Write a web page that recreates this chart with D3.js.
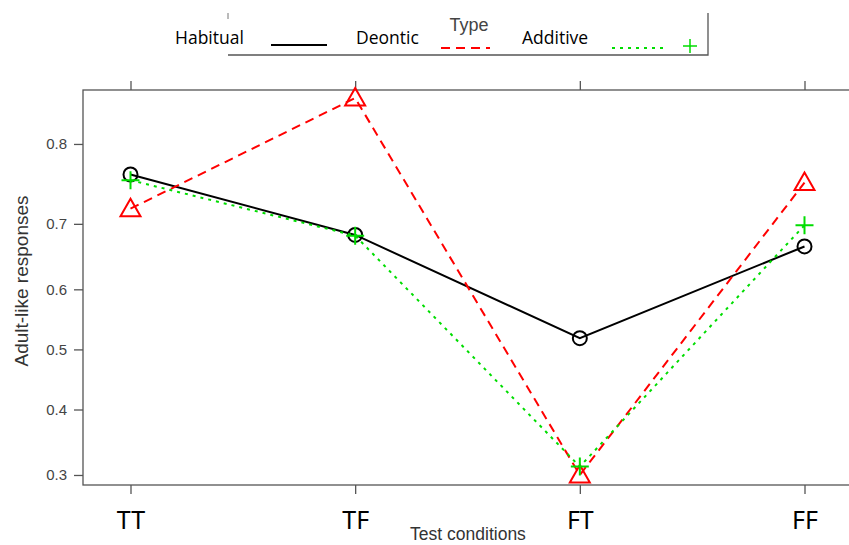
<!DOCTYPE html>
<html>
<head>
<meta charset="utf-8">
<script src="https://cdn.jsdelivr.net/npm/d3@7"></script>
<style>
  body { margin: 0; background: #fff; }
  svg { display: block; }
</style>
</head>
<body>
<div id="chart-area"></div>
<script>
// data (y axis is on a logit scale)
var conditions = ["TT", "TF", "FT", "FF"];
var habitual = [0.765, 0.684, 0.519, 0.667];
var deontic  = [0.721, 0.845, 0.300, 0.755];
var additive = [0.758, 0.683, 0.312, 0.698];
var yTicks = [0.3, 0.4, 0.5, 0.6, 0.7, 0.8];
var seriesNames = ["Habitual", "Deontic", "Additive"];

var logit = function(p){ return Math.log(p / (1 - p)); };
var invlogit = function(v){ return 1 / (1 + Math.exp(-v)); };

var svg = d3.select("#chart-area").append("svg")
    .attr("width", 849)
    .attr("height", 545);

var box = { left: 83, top: 90, right: 860, bottom: 485 };

var x = d3.scalePoint()
    .domain(conditions)
    .range([130.5, 804.5]);

var yL = d3.scaleLinear()
    .domain([logit(0.286), logit(0.852)])
    .range([box.bottom, box.top]);
var y = function(p){ return yL(logit(p)); };

// panel frame
svg.append("rect")
    .attr("x", box.left)
    .attr("y", box.top)
    .attr("width", box.right - box.left)
    .attr("height", box.bottom - box.top)
    .attr("fill", "none")
    .attr("stroke", "#555")
    .attr("stroke-width", 1.3);

// left axis
var yAxis = d3.axisLeft(yL)
    .tickValues(yTicks.map(logit))
    .tickFormat(function(d){ return d3.format(".1f")(invlogit(d)); })
    .tickSize(9)
    .tickPadding(7);
var gy = svg.append("g")
    .attr("transform", "translate(" + box.left + ",0)")
    .call(yAxis);
gy.select(".domain").remove();
gy.selectAll("line").attr("stroke", "#555").attr("stroke-width", 1.3);
gy.selectAll("text")
    .attr("fill", "#444")
    .style("font-family", "Liberation Sans, Arial, sans-serif")
    .style("font-size", "15px");

// bottom axis
var xAxis = d3.axisBottom(x).tickSize(9).tickPadding(17);
var gx = svg.append("g")
    .attr("transform", "translate(0," + box.bottom + ")")
    .call(xAxis);
gx.select(".domain").remove();
gx.selectAll("line").attr("stroke", "#555").attr("stroke-width", 1.3);
gx.selectAll("text")
    .attr("fill", "#000")
    .style("font-family", "Noto Sans, Open Sans, sans-serif")
    .style("font-size", "25px");

// ticks on top of panel
var gt = svg.append("g")
    .attr("transform", "translate(0," + box.top + ")")
    .call(d3.axisTop(x).tickSize(9).tickFormat(""));
gt.select(".domain").remove();
gt.selectAll("line").attr("stroke", "#555").attr("stroke-width", 1.3);

// axis titles
svg.append("text")
    .attr("x", 468)
    .attr("y", 540)
    .attr("text-anchor", "middle")
    .attr("fill", "#333")
    .style("font-family", "Liberation Sans, Arial, sans-serif")
    .style("font-size", "17.5px")
    .text("Test conditions");

svg.append("text")
    .attr("transform", "translate(28,281) rotate(-90)")
    .attr("text-anchor", "middle")
    .attr("fill", "#333")
    .style("font-family", "Liberation Sans, Arial, sans-serif")
    .style("font-size", "19px")
    .text("Adult-like responses");

var series = [
    { name: "Habitual", values: habitual, color: "#000000", dash: null, marker: "circle" },
    { name: "Deontic", values: deontic, color: "#ff0000", dash: "9,6", marker: "triangle" },
    { name: "Additive", values: additive, color: "#00dd00", dash: "3,5", marker: "plus" }
];

var line = d3.line()
    .x(function(d, i){ return x(conditions[i]); })
    .y(function(d){ return y(d); });

function drawMarker(g, type, cx, cy, color){
    if (type == "circle") {
        g.append("circle")
            .attr("cx", cx).attr("cy", cy).attr("r", 7)
            .attr("fill", "none").attr("stroke", color).attr("stroke-width", 2);
    }
    else if (type == "triangle") {
        g.append("path")
            .attr("d", "M" + cx + "," + (cy - 10) + "L" + (cx + 10) + "," + (cy + 7.5) + "L" + (cx - 10) + "," + (cy + 7.5) + "Z")
            .attr("fill", "none").attr("stroke", color).attr("stroke-width", 2);
    }
    else {
        g.append("path")
            .attr("d", "M" + (cx - 9) + "," + cy + "H" + (cx + 9) + "M" + cx + "," + (cy - 9) + "V" + (cy + 9))
            .attr("fill", "none").attr("stroke", color).attr("stroke-width", 2);
    }
}

series.forEach(function(s){
    var g = svg.append("g");
    g.append("path")
        .datum(s.values)
        .attr("d", line)
        .attr("fill", "none")
        .attr("stroke", s.color)
        .attr("stroke-width", 2)
        .attr("stroke-dasharray", s.dash);
    s.values.forEach(function(v, i){
        drawMarker(g, s.marker, x(conditions[i]), y(v), s.color);
    });
});

// legend
var lg = svg.append("g");
lg.append("path")
    .attr("d", "M228,55H708V13")
    .attr("fill", "none").attr("stroke", "#555").attr("stroke-width", 1.3);
lg.append("path")
    .attr("d", "M228,13V19")
    .attr("fill", "none").attr("stroke", "#777").attr("stroke-width", 1);

lg.append("text")
    .attr("x", 469).attr("y", 31)
    .attr("text-anchor", "middle")
    .attr("fill", "#444")
    .style("font-family", "Liberation Sans, Arial, sans-serif")
    .style("font-size", "18px")
    .text("Type");

var legendX = [
    { tx: 175, lx1: 271, lx2: 327, ly: 45 },
    { tx: 356, lx1: 441, lx2: 490, ly: 48 },
    { tx: 522, lx1: 612, lx2: 667, ly: 48 }
];
series.forEach(function(s, i){
    var p = legendX[i];
    lg.append("text")
        .attr("x", p.tx).attr("y", 44)
        .attr("fill", "#000")
        .style("font-family", "Open Sans, Noto Sans, sans-serif")
        .style("font-size", "17.5px")
        .style("font-weight", "500")
        .text(seriesNames[i]);
    lg.append("line")
        .attr("x1", p.lx1).attr("x2", p.lx2)
        .attr("y1", p.ly).attr("y2", p.ly)
        .attr("stroke", s.color)
        .attr("stroke-width", 2)
        .attr("stroke-dasharray", s.dash);
});
lg.append("path")
    .attr("d", "M683,46H697M690,39V53")
    .attr("fill", "none").attr("stroke", "#00dd00").attr("stroke-width", 1.5);
</script>
</body>
</html>
